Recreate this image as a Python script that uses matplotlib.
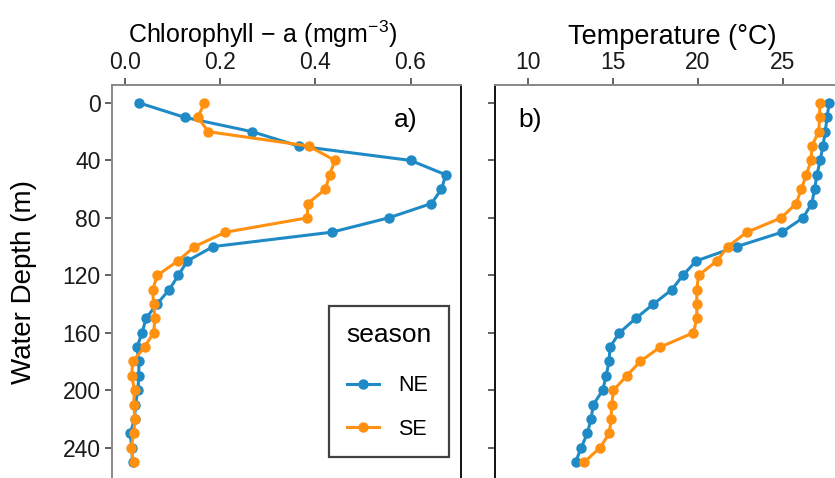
import matplotlib
matplotlib.use("Agg")
import matplotlib.pyplot as plt

plt.rcParams['font.family'] = ['Liberation Sans', 'DejaVu Sans']
plt.rcParams['mathtext.fontset'] = 'custom'
plt.rcParams['mathtext.rm'] = 'Liberation Sans'
plt.rcParams['mathtext.it'] = 'Liberation Sans'

# Depth profile (m)
depth = [0, 10, 20, 30, 40, 50, 60, 70, 80, 90, 100, 110, 120, 130, 140, 150,
         160, 170, 180, 190, 200, 210, 220, 230, 240, 250]

# Chlorophyll-a (mg m-3)
chl_ne = [0.030, 0.125, 0.267, 0.365, 0.600, 0.674, 0.665, 0.644, 0.554, 0.434,
          0.185, 0.131, 0.112, 0.093, 0.067, 0.044, 0.036, 0.025, 0.029, 0.029,
          0.027, 0.022, 0.020, 0.011, 0.014, 0.016]
chl_se = [0.167, 0.153, 0.175, 0.386, 0.441, 0.430, 0.421, 0.384, 0.383, 0.211,
          0.146, 0.111, 0.068, 0.058, 0.060, 0.063, 0.060, 0.041, 0.016, 0.014,
          0.020, 0.018, 0.021, 0.018, 0.013, 0.018]

# Temperature (°C)
temp_ne = [27.72, 27.59, 27.49, 27.35, 27.19, 27.00, 26.86, 26.70, 26.18, 24.94,
           22.29, 19.90, 19.12, 18.47, 17.39, 16.35, 15.39, 14.84, 14.78, 14.61,
           14.41, 13.86, 13.72, 13.51, 13.14, 12.82]
temp_se = [27.16, 27.16, 27.10, 26.70, 26.66, 26.37, 26.08, 25.78, 24.90, 22.88,
           21.76, 21.12, 20.04, 19.94, 19.94, 19.94, 19.74, 17.78, 16.61, 15.82,
           15.04, 14.94, 14.90, 14.80, 14.25, 13.33]

blue = '#1f8ac5'
orange = '#ff9010'

W, H = 835, 478
fig = plt.figure(figsize=(W / 100, H / 100), dpi=100)

def px_axes(x0, x1, y0, y1):
    return fig.add_axes([x0 / W, 1 - y1 / H, (x1 - x0) / W, (y1 - y0) / H])

ax1 = px_axes(111.7, 460.5, 85, 480)
ax2 = px_axes(495, 868, 85, 480)

style = dict(lw=2.2, marker='o', ms=6.5)

for ax, ne, se in [(ax1, chl_ne, chl_se), (ax2, temp_ne, temp_se)]:
    ax.plot(ne, depth, color=blue, label='NE', **style)
    ax.plot(se, depth, color=orange, label='SE', **style)
    ax.set_ylim(262.5, -12.5)
    ax.set_yticks([0, 40, 80, 120, 160, 200, 240])
    ax.xaxis.tick_top()
    ax.xaxis.set_label_position('top')
    ax.tick_params(axis='both', labelsize=16.5, length=5, width=1.3,
                   color='#555555', labelcolor='#1a1a1a', pad=3)
    for s in ax.spines.values():
        s.set_linewidth(1.4)
    ax.spines['bottom'].set_visible(False)

ax1.set_xlim(-0.028, 0.705)
ax1.set_xticks([0.0, 0.2, 0.4, 0.6])
ax1.set_xticklabels(['0.0', '0.2', '0.4', '0.6'])
ax1.set_xlabel(r'Chlorophyll$\,-\,$a (mgm$^{-3}$)', fontsize=18)
ax1.xaxis.set_label_coords(0.434, 1.089)
ax1.xaxis.label.set_va('bottom')
ax1.set_ylabel('Water Depth (m)', fontsize=20)
ax1.yaxis.set_label_coords(-0.215, 0.5)
ax1.spines['left'].set_color('#888888')
ax1.spines['top'].set_color('#888888')
ax1.spines['right'].set_color('#111111')
ax1.text(0.842, 0.911, 'a)', transform=ax1.transAxes, fontsize=19,
         ha='center', va='center')

ax2.set_xlim(8.08, 30.0)
ax2.set_xticks([10, 15, 20, 25])
ax2.set_yticklabels([])
ax2.set_xlabel('Temperature (°C)', fontsize=19.5)
ax2.xaxis.set_label_coords(0.475, 1.089)
ax2.xaxis.label.set_va('bottom')
ax2.spines['left'].set_color('#111111')
ax2.spines['top'].set_color('#888888')
ax2.spines['right'].set_visible(False)
ax2.text(0.095, 0.911, 'b)', transform=ax2.transAxes, fontsize=19,
         ha='center', va='center')

leg = ax1.legend(title='season', loc='lower right',
                 bbox_to_anchor=(0.967, 0.058), borderaxespad=0,
                 fontsize=15.5, title_fontsize=19,
                 frameon=True, fancybox=False, edgecolor='#111111',
                 handlelength=1.5, labelspacing=1.05, borderpad=0.8,
                 handletextpad=0.9)
leg.get_frame().set_linewidth(1.6)
leg._legend_box.align = 'left'
leg._legend_box.sep = 20

fig.savefig('out.png', dpi=100)
